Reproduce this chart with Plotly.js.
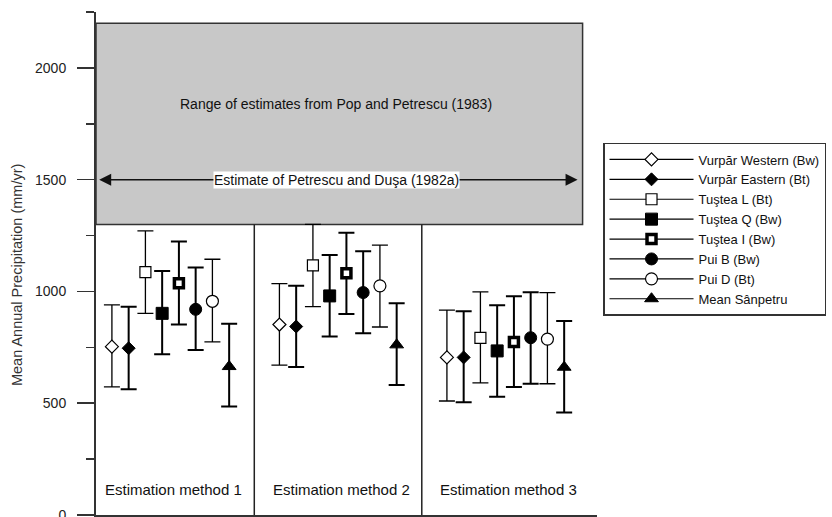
<!DOCTYPE html>
<html>
<head>
<meta charset="utf-8">
<script src="https://cdn.plot.ly/plotly-3.0.1.min.js"></script>
<style>html,body{margin:0;padding:0;background:#fff;}#chart{width:832px;height:517px;}</style>
</head>
<body>
<div id="chart"></div>
<script>
// ---- data ----
const groups = ['Estimation method 1', 'Estimation method 2', 'Estimation method 3'];
const seriesNames = ['Vurpăr Western (Bw)', 'Vurpăr Eastern (Bt)', 'Tuştea L (Bt)', 'Tuştea Q (Bw)',
                     'Tuştea I (Bw)', 'Pui B (Bw)', 'Pui D (Bt)', 'Mean Sânpetru'];
// mean, upper and lower bounds per series, one value per estimation method
const vurparWesternMean  = [753, 852, 705];
const vurparWesternUpper = [940, 1035, 916];
const vurparWesternLower = [573, 670, 510];
const vurparEasternMean  = [746, 843, 705];
const vurparEasternUpper = [931, 1025, 911];
const vurparEasternLower = [562, 662, 504];
const tusteaLMean  = [1086, 1117, 792];
const tusteaLUpper = [1271, 1300, 998];
const tusteaLLower = [902, 932, 591];
const tusteaQMean  = [902, 980, 734];
const tusteaQUpper = [1092, 1163, 938];
const tusteaQLower = [719, 798, 529];
const tusteaIMean  = [1037, 1081, 774];
const tusteaIUpper = [1223, 1263, 978];
const tusteaILower = [852, 899, 573];
const puiBMean  = [920, 995, 793];
const puiBUpper = [1107, 1180, 996];
const puiBLower = [738, 813, 587];
const puiDMean  = [956, 1025, 787];
const puiDUpper = [1144, 1207, 995];
const puiDLower = [774, 841, 587];
const sanpetruMean  = [664, 761, 661];
const sanpetruUpper = [855, 947, 868];
const sanpetruLower = [485, 582, 459];
// reference ranges from the literature
const popPetrescuRange = [1300, 2200];
const petrescuDusaEstimate = 1500;
const yTickVals = [0, 500, 1000, 1500, 2000];

// ---- styling ----
const means  = [vurparWesternMean, vurparEasternMean, tusteaLMean, tusteaQMean, tusteaIMean, puiBMean, puiDMean, sanpetruMean];
const uppers = [vurparWesternUpper, vurparEasternUpper, tusteaLUpper, tusteaQUpper, tusteaIUpper, puiBUpper, puiDUpper, sanpetruUpper];
const lowers = [vurparWesternLower, vurparEasternLower, tusteaLLower, tusteaQLower, tusteaILower, puiBLower, puiDLower, sanpetruLower];
const styles = [
  {symbol: 'diamond',     color: 'white', lw: 1.2, size: 10, eb: 1.3},
  {symbol: 'diamond',     color: 'black', lw: 1,   size: 10, eb: 2},
  {symbol: 'square',      color: 'white', lw: 1.2, size: 11, eb: 1.3},
  {symbol: 'square',      color: 'black', lw: 1,   size: 12, eb: 2},
  {symbol: 'square',      color: 'white', lw: 3.5, size: 9,  eb: 2},
  {symbol: 'circle',      color: 'black', lw: 1,   size: 12, eb: 2},
  {symbol: 'circle',      color: 'white', lw: 1.2, size: 12, eb: 1.3},
  {symbol: 'triangle-up', color: 'black', lw: 1,   size: 12, eb: 2}
];
const step = 0.1;
const xRange = [-0.445, 2.546];

const traces = seriesNames.map((name, s) => {
  const x = [], y = [], up = [], dn = [];
  groups.forEach((g, gi) => {
    if (gi > 0) { x.push(null); y.push(null); up.push(null); dn.push(null); }
    x.push(gi + (s - 3.5) * step);
    y.push(means[s][gi]);
    up.push(uppers[s][gi] - means[s][gi]);
    dn.push(means[s][gi] - lowers[s][gi]);
  });
  const st = styles[s];
  return {
    type: 'scatter', mode: 'lines+markers', name: name, x: x, y: y,
    connectgaps: false, cliponaxis: false,
    line: {color: 'black', width: 1.2},
    marker: {symbol: st.symbol, size: st.size, color: st.color, line: {color: 'black', width: st.lw}},
    error_y: {type: 'data', symmetric: false, array: up, arrayminus: dn, color: 'black', thickness: st.eb, width: 8}
  };
});

const fontFam = 'Arial, "Liberation Sans", sans-serif';
const shapes = [
  {type: 'rect', xref: 'x', yref: 'y', x0: xRange[0], x1: 2.46, y0: popPetrescuRange[0], y1: popPetrescuRange[1],
   fillcolor: '#c8c8c8', line: {color: '#333', width: 1.5}, layer: 'below'},
  {type: 'line', xref: 'x', yref: 'y', x0: 0.5, x1: 0.5, y0: 0, y1: popPetrescuRange[0], line: {color: '#222', width: 1.5}},
  {type: 'line', xref: 'x', yref: 'y', x0: 1.5, x1: 1.5, y0: 0, y1: popPetrescuRange[0], line: {color: '#222', width: 1.5}}
];
const annotations = [
  {x: 2.43, y: petrescuDusaEstimate, ax: xRange[0] + 0.01, ay: petrescuDusaEstimate, axref: 'x', ayref: 'y', xref: 'x', yref: 'y',
   text: '', showarrow: true, arrowside: 'end+start', arrowhead: 2, arrowsize: 1.6, arrowwidth: 1.5, arrowcolor: '#111', standoff: 0, startstandoff: 0},
  {x: 0.99, y: petrescuDusaEstimate, xref: 'x', yref: 'y', text: 'Estimate of Petrescu and Duşa (1982a)', showarrow: false,
   bgcolor: 'white', borderpad: 0, font: {size: 14, color: '#111'}},
  {x: 0.99, y: 1839, xref: 'x', yref: 'y', text: 'Range of estimates from Pop and Petrescu (1983)', showarrow: false,
   font: {size: 14, color: '#111'}},
  {x: -0.1577, y: 0.477, xref: 'paper', yref: 'paper', xanchor: 'center', yanchor: 'middle',
   text: 'Mean Annual Precipitation (mm/yr)', textangle: -90,
   showarrow: false, font: {size: 14.5, color: '#333'}}
];
groups.forEach((g, gi) => {
  annotations.push({x: gi + 0.02, y: 116, xref: 'x', yref: 'y', text: g, showarrow: false, font: {size: 15, color: '#111'}});
});

const layout = {
  width: 832, height: 517,
  margin: {l: 96, r: 235, t: 12, b: 2, pad: 0},
  paper_bgcolor: 'white', plot_bgcolor: 'white',
  font: {family: fontFam, size: 13, color: '#222'},
  showlegend: true,
  legend: {x: 1.012, y: 0.7396, xanchor: 'left', yanchor: 'top', bgcolor: 'white', bordercolor: '#333', borderwidth: 1.5,
           font: {size: 13, color: '#111'}, itemwidth: 84, tracegroupgap: 0, traceorder: 'normal'},
  xaxis: {range: xRange, showgrid: false, zeroline: false, showticklabels: false, ticks: '', showline: true,
          linecolor: '#333', linewidth: 2, fixedrange: true},
  yaxis: {range: [0, 2250], tickvals: yTickVals, ticks: 'outside', ticklen: 17, tickwidth: 1.5, tickcolor: '#333',
          showgrid: false, zeroline: false, showline: true, linecolor: '#333', linewidth: 2, ticklabeloverflow: 'allow',
          minor: {dtick: 250, tick0: 0, ticks: 'outside', ticklen: 8, tickwidth: 1.5, tickcolor: '#333', showgrid: false},
          tickfont: {size: 14, color: '#222'}, ticklabelstandoff: 8},
  shapes: shapes, annotations: annotations
};

Plotly.newPlot('chart', traces, layout, {displayModeBar: false, staticPlot: true});
</script>
</body>
</html>
